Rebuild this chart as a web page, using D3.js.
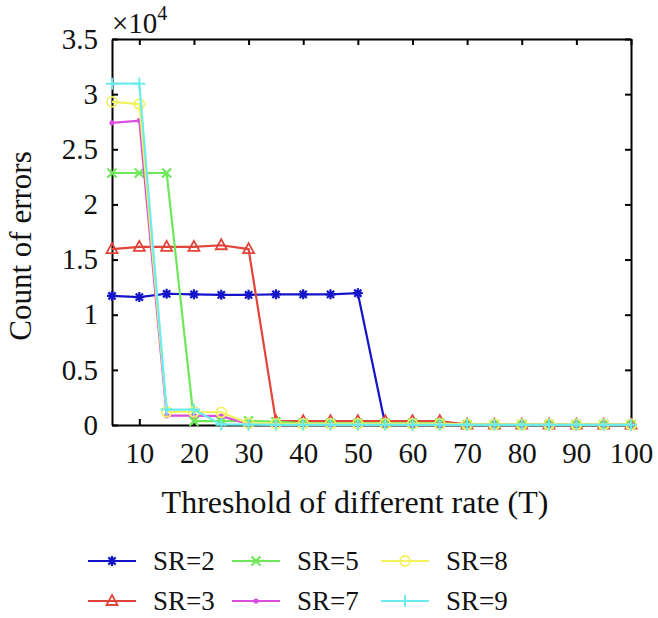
<!DOCTYPE html>
<html>
<head>
<meta charset="utf-8">
<script src="https://cdn.jsdelivr.net/npm/d3@7"></script>
<style>
  body { margin: 0; background: #fff; }
  svg text { font-family: "Liberation Serif", "DejaVu Serif", serif; fill: #111; }
</style>
</head>
<body>
<div id="chart"></div>
<script>
// thresholds T
var thresholds = [5, 10, 15, 20, 25, 30, 35, 40, 45, 50, 55, 60, 65, 70, 75, 80, 85, 90, 95, 100];

// count of errors per SR
var sr2 = [11700, 11600, 11900, 11850, 11800, 11800, 11850, 11850, 11850, 11950, 60, 50, 40, 20, 20, 20, 20, 20, 20, 20];
var sr3 = [15950, 16150, 16150, 16150, 16300, 15950, 350, 350, 350, 350, 350, 350, 350, 30, 30, 30, 30, 30, 30, 30];
var sr5 = [22850, 22850, 22850, 350, 350, 380, 300, 150, 150, 150, 150, 150, 150, 40, 40, 40, 40, 40, 40, 40];
var sr7 = [27400, 27600, 850, 850, 800, 100, 50, 30, 30, 30, 30, 30, 30, 20, 20, 20, 20, 20, 20, 20];
var sr8 = [29300, 29100, 1200, 1200, 1150, 150, 100, 100, 100, 100, 100, 100, 100, 60, 60, 60, 60, 60, 60, 60];
var sr9 = [30950, 30950, 1400, 1400, 50, 30, 20, 20, 20, 20, 20, 20, 20, 20, 20, 20, 20, 20, 20, 20];

var seriesNames = ["SR=2", "SR=3", "SR=5", "SR=7", "SR=8", "SR=9"];
var seriesValues = [sr2, sr3, sr5, sr7, sr8, sr9];
var seriesColors = ["#1414c8", "#e0443a", "#6ee85a", "#d94ee0", "#f2f25e", "#6cecec"];
var seriesMarkers = ["asterisk", "triangle", "cross", "dot", "circle", "plus"];

var xTicks = [10, 20, 30, 40, 50, 60, 70, 80, 90, 100];
var yTicks = [0, 5000, 10000, 15000, 20000, 25000, 30000, 35000];

var serif = "Liberation Serif, DejaVu Serif, serif";

var margin = { top: 39, right: 27, bottom: 193, left: 112 };
var width = 658 - margin.left - margin.right;
var height = 618 - margin.top - margin.bottom;

var svg = d3.select("#chart").append("svg")
    .attr("width", 658)
    .attr("height", 618)
    .attr("font-family", serif);

var g = svg.append("g")
    .attr("transform", "translate(" + margin.left + "," + margin.top + ")");

var x = d3.scaleLinear().domain([5, 100]).range([0, width]);
var y = d3.scaleLinear().domain([0, 35000]).range([height, 0]);

// axes (ticks pointing inwards, box around plot)
var xAxis = d3.axisBottom(x).tickValues(xTicks).tickSizeInner(-6).tickSizeOuter(0).tickPadding(17);
var yAxis = d3.axisLeft(y).tickValues(yTicks).tickSizeInner(-6).tickSizeOuter(0).tickPadding(14)
    .tickFormat(function(d){ return d / 10000; });

g.append("g")
    .attr("class", "x-axis")
    .attr("transform", "translate(0," + height + ")")
    .call(xAxis);
g.append("g")
    .attr("class", "y-axis")
    .call(yAxis);
g.append("g")
    .attr("class", "x-axis-top")
    .call(d3.axisTop(x).tickValues(xTicks).tickSizeInner(-6).tickSizeOuter(0).tickFormat(""));
g.append("g")
    .attr("class", "y-axis-right")
    .attr("transform", "translate(" + width + ",0)")
    .call(d3.axisRight(y).tickValues(yTicks).tickSizeInner(-6).tickSizeOuter(0).tickFormat(""));

g.selectAll(".x-axis, .y-axis, .x-axis-top, .y-axis-right")
    .attr("font-family", serif)
    .attr("font-size", 29);
g.selectAll(".domain, .tick line")
    .attr("stroke", "#000")
    .attr("stroke-width", 2);
g.selectAll(".tick text")
    .attr("fill", "#111");

// exponent label
var expo = g.append("text")
    .attr("x", 0)
    .attr("y", -6)
    .style("font-size", "29px");
expo.append("tspan").text("\u00d710");
expo.append("tspan").attr("dy", -13).style("font-size", "20px").text("4");

// axis titles
g.append("text")
    .attr("x", 355 - margin.left)
    .attr("y", 513 - margin.top)
    .attr("text-anchor", "middle")
    .style("font-size", "32px")
    .text("Threshold of different rate (T)");

g.append("text")
    .attr("transform", "translate(" + (31 - margin.left) + "," + (246 - margin.top) + ") rotate(-90)")
    .attr("text-anchor", "middle")
    .style("font-size", "31px")
    .text("Count of errors");

// marker drawing
function drawMarker(sel, type, color) {
    if (type === "asterisk") {
        sel.append("path")
            .attr("d", "M-5,0L5,0M0,-5L0,5M-3.6,-3.6L3.6,3.6M-3.6,3.6L3.6,-3.6")
            .attr("stroke", color).attr("stroke-width", 2.2).attr("fill", "none");
    } else if (type === "triangle") {
        sel.append("path")
            .attr("d", "M0,-6L5.5,4L-5.5,4Z")
            .attr("stroke", color).attr("stroke-width", 1.8).attr("fill", "none");
    } else if (type === "cross") {
        sel.append("path")
            .attr("d", "M-4.5,-4.5L4.5,4.5M-4.5,4.5L4.5,-4.5")
            .attr("stroke", color).attr("stroke-width", 2.2).attr("fill", "none");
    } else if (type === "dot") {
        sel.append("circle").attr("r", 2.6).attr("fill", color);
    } else if (type === "circle") {
        sel.append("circle").attr("r", 5).attr("stroke", color).attr("stroke-width", 1.8).attr("fill", "none");
    } else if (type === "plus") {
        sel.append("path")
            .attr("d", "M-6,0L6,0M0,-6L0,6")
            .attr("stroke", color).attr("stroke-width", 2).attr("fill", "none");
    }
}

var line = d3.line()
    .x(function(d, i){ return x(thresholds[i]); })
    .y(function(d){ return y(d); });

seriesValues.forEach(function(vals, k) {
    var sg = g.append("g").attr("class", "series");
    sg.append("path")
        .datum(vals)
        .attr("d", line)
        .attr("fill", "none")
        .attr("stroke", seriesColors[k])
        .attr("stroke-width", 2.2);
    sg.selectAll(".mk")
        .data(vals)
        .enter().append("g")
        .attr("class", "mk")
        .attr("transform", function(d, i){ return "translate(" + x(thresholds[i]) + "," + y(d) + ")"; })
        .each(function(){ drawMarker(d3.select(this), seriesMarkers[k], seriesColors[k]); });
});

// legend: 3 columns x 2 rows
var legendCols = [88, 232, 381];
var legendRows = [561, 601];
seriesNames.forEach(function(name, k) {
    var col = Math.floor(k / 2), row = k % 2;
    var lg = svg.append("g")
        .attr("transform", "translate(" + legendCols[col] + "," + legendRows[row] + ")");
    lg.append("line")
        .attr("x1", 0).attr("x2", 48)
        .attr("stroke", seriesColors[k])
        .attr("stroke-width", 2.2);
    drawMarker(lg.append("g").attr("transform", "translate(24,0)"), seriesMarkers[k], seriesColors[k]);
    lg.append("text")
        .attr("x", 65)
        .attr("y", 9)
        .style("font-size", "27px")
        .text(name);
});
</script>
</body>
</html>
